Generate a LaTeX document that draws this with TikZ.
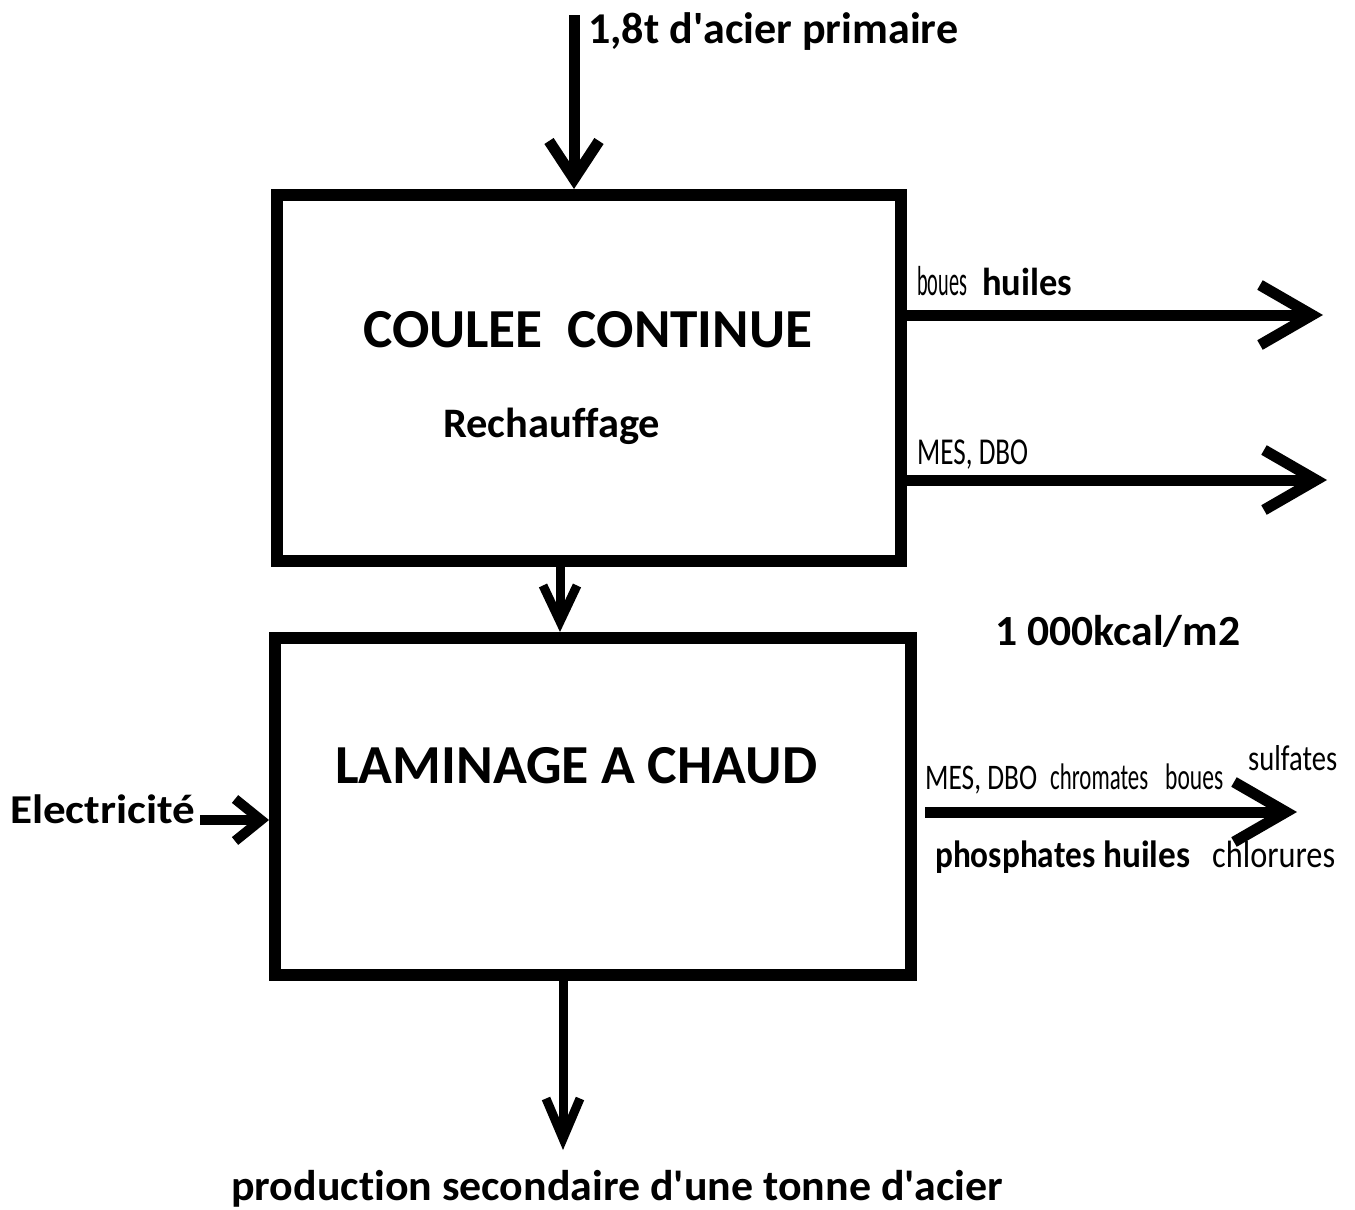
\documentclass[tikz,border=0pt]{standalone}
\usepackage{fontspec}
\setmainfont{Carlito}[Ligatures={CommonOff}]
\usetikzlibrary{arrows.meta}
\newcommand\fitw[2]{\resizebox{#1pt}{\height}{#2}}
\newcommand\fsz[1]{\fontsize{#1}{#1}\selectfont}
\newcommand\apo{\textquotesingle}
\begin{document}
\begin{tikzpicture}[x=1pt,y=-1pt,
  proc/.style={draw, line width=12pt, inner sep=0pt},
  lbl/.style={inner sep=0pt, anchor=base west},
  bigarr/.style={line width=11pt, -{Straight Barb[length=52pt,width=60pt]}},
  vert/.style={line width=11pt, -{Straight Barb[length=38pt,width=50pt]}}]
\useasboundingbox (0,0) rectangle (1355,1210);
\fill[white] (0,0) rectangle (1355,1210);

% boxes
\node[proc, minimum width=624pt, minimum height=366pt] (b1) at (589,378) {};
\node[proc, minimum width=636pt, minimum height=337pt] (b2) at (593,806.5) {};

% texts
\node[lbl] (t1) at (588,43) {\fsz{44}\bfseries\fitw{370}{1,8t d\apo acier primaire}};
\node[lbl] (coul) at (363,347) {\fsz{55}\bfseries\fitw{449}{COULEE\ \ CONTINUE}};
\node[lbl] (rech) at (443,437) {\fsz{42}\bfseries\fitw{217}{Rechauffage}};
\node[lbl] (bo1) at (917,295) {\fsz{42}\fitw{50}{boues}};
\node[lbl] (hu1) at (982,295) {\fsz{39}\bfseries\fitw{90}{huiles}};
\node[lbl] (md1) at (917,464) {\fsz{38}\fitw{111}{MES, DBO}};
\node[lbl] (kcal) at (995,645) {\fsz{43}\bfseries\fitw{245}{1 000kcal/m2}};
\node[lbl] (lam) at (335,783) {\fsz{55}\bfseries\fitw{482}{LAMINAGE A CHAUD}};
\node[lbl] (elec) at (10,823) {\fsz{41}\bfseries\fitw{185}{Electricité}};
\node[lbl] (md2) at (925,789) {\fsz{36}\fitw{112}{MES, DBO}};
\node[lbl] (chr) at (1050,789) {\fsz{37}\fitw{98}{chromates}};
\node[lbl] (bo2) at (1165,789) {\fsz{37}\fitw{58}{boues}};
\node[lbl] (sul) at (1248,770) {\fsz{36}\fitw{89}{sulfates}};
\node[lbl] (pho) at (935,867) {\fsz{38}\bfseries\fitw{160}{phosphates}};
\node[lbl] (hu2) at (1103,867) {\fsz{38}\bfseries\fitw{87}{huiles}};
\node[lbl] (chl) at (1212,867) {\fsz{38}\fitw{123}{chlorures}};
\node[lbl] (prod) at (231,1200) {\fsz{43}\bfseries\fitw{772}{production secondaire d\apo une tonne d\apo acier}};

% free ends
\coordinate (src) at (574,15);
\coordinate (o1) at (1323,315);
\coordinate (o2) at (1327,480);
\coordinate (o3s) at (925,812);
\coordinate (o3) at (1297,812);
\coordinate (el) at (200,820);
\coordinate (out) at (563,1150);

% connectors
\draw[vert] (src) -- (src |- b1.north);
\draw[bigarr] (b1.east |- o1) -- (o1);
\draw[bigarr] (b1.east |- o2) -- (o2);
\draw[line width=9pt, -{Straight Barb[length=36pt,width=34pt]}] (560,0 |- b1.south) -- (560,0 |- b2.north);
\draw[bigarr] (o3s) -- (o3);
\draw[line width=10pt, -{Straight Barb[length=26pt,width=42pt]}] (el) -- (el -| b2.west);
\draw[line width=9pt, -{Straight Barb[length=40pt,width=34pt]}] (out |- b2.south) -- (out);
\end{tikzpicture}
\end{document}
